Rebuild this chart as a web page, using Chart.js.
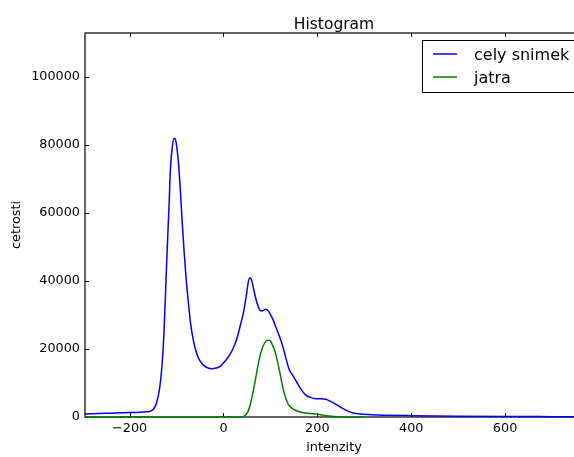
<!DOCTYPE html>
<html>
<head>
<meta charset="utf-8">
<title>Histogram</title>
<script src="https://cdn.jsdelivr.net/npm/chart.js@4.4.1/dist/chart.umd.min.js"></script>
<style>
    html, body { margin: 0; padding: 0; background: #fff; overflow: hidden; }
    #wrap { width: 600px; height: 457px; }
</style>
</head>
<body>
<div id="wrap"><canvas id="histChart" width="600" height="457"></canvas></div>
<script>
/* ============================================================
   DATA
============================================================ */

// cely snimek (whole image)
const celyX = [-295, -250, -200, -170, -156, -148, -142, -136, -131, -127, -123, -120, -116, -113, -109,
    -105, -102, -99, -96, -92, -88, -84, -80, -75, -70, -64, -57, -50, -42, -34, -25, -16, -7, 2, 11,
    20, 28, 36, 43, 49, 53, 57, 60, 64, 69, 74, 79, 84, 90, 95, 100, 106, 113, 120, 127, 134, 140,
    148, 156, 165, 175, 186, 197, 208, 218, 228, 240, 252, 264, 276, 290, 310, 340, 400, 500, 600, 700, 766];
const celyY = [900, 1100, 1300, 1500, 1700, 2500, 4500, 8500, 15000, 24000, 38000, 49000, 62000, 73000, 79500,
    82000, 81500, 79000, 75000, 67000, 57500, 49000, 41500, 34000, 27500, 22500, 18700, 16500, 15200, 14500, 14200, 14400, 14900, 16200, 17800,
    20000, 22800, 27000, 31000, 36000, 39800, 41000, 40200, 37800, 34800, 32500, 31300, 31300, 31700, 31300, 30200, 28500, 26000, 23500, 20500, 16800, 14000,
    12200, 10300, 8200, 6500, 5700, 5400, 5400, 5200, 4600, 3700, 2700, 1800, 1200, 900, 700, 550, 400, 250, 150, 100, 80];

// jatra (liver)
const jatraX = [-295, 0, 35, 45, 52, 58, 64, 70, 76, 82, 88, 94, 99, 104, 110, 116, 121, 126, 132,
    138, 145, 155, 165, 180, 200, 220, 240, 250, 300];
const jatraY = [0, 0, 0, 300, 1500, 4200, 8000, 12500, 16800, 20000, 21800, 22600, 22500, 21300, 19200, 15800, 12500, 9000, 5800,
    3800, 2700, 1900, 1400, 1100, 800, 400, 100, 0, 0];

const seriesNames = ["cely snimek", "jatra"];
const seriesColors = ["#0000ff", "#008000"];

const xTicks = [-200, 0, 200, 400, 600];
const yTicks = [0, 20000, 40000, 60000, 80000, 100000];
const xRange = [-295, 766];
const yRange = [0, 113000];

/* ============================================================
   HELPERS
============================================================ */

const FONT = "'DejaVu Sans', sans-serif";

function toPoints(xs, ys) {
    return xs.map((x, i) => ({ x: x, y: ys[i] }));
}

function fmtTick(v) {
    return v < 0 ? "\u2212" + Math.abs(v) : String(v);
}

/* frame + inward ticks, matplotlib classic look */
const framePlugin = {
    id: "frame",
    beforeDatasetsDraw(chart) {
        const { ctx, chartArea: a, scales } = chart;
        ctx.save();
        ctx.strokeStyle = "#000";
        ctx.lineWidth = 1.2;
        ctx.strokeRect(a.left, a.top, a.right - a.left, a.bottom - a.top);

        ctx.lineWidth = 1;
        ctx.beginPath();
        xTicks.forEach(v => {
            const px = Math.round(scales.x.getPixelForValue(v)) + 0.5;
            ctx.moveTo(px, a.bottom); ctx.lineTo(px, a.bottom - 4);
            ctx.moveTo(px, a.top); ctx.lineTo(px, a.top + 4);
        });
        yTicks.forEach(v => {
            const py = Math.round(scales.y.getPixelForValue(v)) + 0.5;
            ctx.moveTo(a.left, py); ctx.lineTo(a.left + 4, py);
            ctx.moveTo(a.right, py); ctx.lineTo(a.right - 4, py);
        });
        ctx.stroke();
        ctx.restore();
    },
    afterDraw(chart) {
        const { ctx, chartArea: a } = chart;
        ctx.save();

        // title
        ctx.fillStyle = "#000";
        ctx.font = "15.5px " + FONT;
        ctx.textAlign = "center";
        ctx.textBaseline = "alphabetic";
        ctx.fillText("Histogram", (a.left + a.right) / 2, 28.5);

        // legend box (upper right)
        const bx = 422.5, by = 40.5, bw = a.right - 8 - bx, bh = 52;
        ctx.fillStyle = "#fff";
        ctx.fillRect(bx, by, bw, bh);
        ctx.strokeStyle = "#000";
        ctx.lineWidth = 1;
        ctx.strokeRect(bx, by, bw, bh);

        ctx.font = "16px " + FONT;
        ctx.textAlign = "left";
        const rows = [54, 77];
        seriesNames.forEach((name, i) => {
            ctx.strokeStyle = seriesColors[i];
            ctx.lineWidth = 1.5;
            ctx.beginPath();
            ctx.moveTo(433, rows[i]);
            ctx.lineTo(457, rows[i]);
            ctx.stroke();
            ctx.fillStyle = "#000";
            ctx.fillText(name, 474, rows[i] + 5.8);
        });
        ctx.restore();
    }
};

/* ============================================================
   CHART
============================================================ */

const datasets = [
    { label: seriesNames[0], data: toPoints(celyX, celyY) },
    { label: seriesNames[1], data: toPoints(jatraX, jatraY) },
].map((ds, i) => Object.assign(ds, {
    borderColor: seriesColors[i],
    backgroundColor: seriesColors[i],
    borderWidth: 1.5,
    pointRadius: 0,
    fill: false,
    tension: 0,
    cubicInterpolationMode: "monotone",
    clip: false,
}));

new Chart(document.getElementById("histChart"), {
    type: "line",
    data: { datasets: datasets },
    plugins: [framePlugin],
    options: {
        responsive: false,
        devicePixelRatio: 1,
        animation: false,
        layout: { padding: { top: 33, right: 17, bottom: 0, left: 0 } },
        plugins: {
            legend: { display: false },
            title: { display: false },
            tooltip: { enabled: false },
        },
        scales: {
            x: {
                type: "linear",
                min: xRange[0],
                max: xRange[1],
                afterBuildTicks: s => { s.ticks = xTicks.map(v => ({ value: v })); },
                afterFit: s => { s.height = 40; },
                grid: { display: false, drawTicks: false },
                border: { display: false },
                ticks: {
                    color: "#000",
                    padding: 4,
                    maxRotation: 0,
                    font: { family: FONT, size: 12.8 },
                    callback: v => fmtTick(v),
                },
                title: {
                    display: true,
                    text: "intenzity",
                    color: "#000",
                    font: { family: FONT, size: 12.8 },
                    padding: { top: 0, bottom: 1.5 },
                },
            },
            y: {
                min: yRange[0],
                max: yRange[1],
                afterBuildTicks: s => { s.ticks = yTicks.map(v => ({ value: v })); },
                afterFit: s => { s.width = 85; },
                grid: { display: false, drawTicks: false },
                border: { display: false },
                ticks: {
                    color: "#000",
                    padding: 5,
                    font: { family: FONT, size: 12.8 },
                    callback: v => fmtTick(v),
                },
                title: {
                    display: true,
                    text: "cetrosti",
                    color: "#000",
                    font: { family: FONT, size: 12.8 },
                    padding: { top: 9, bottom: 0 },
                },
            },
        },
    },
});
</script>
</body>
</html>
